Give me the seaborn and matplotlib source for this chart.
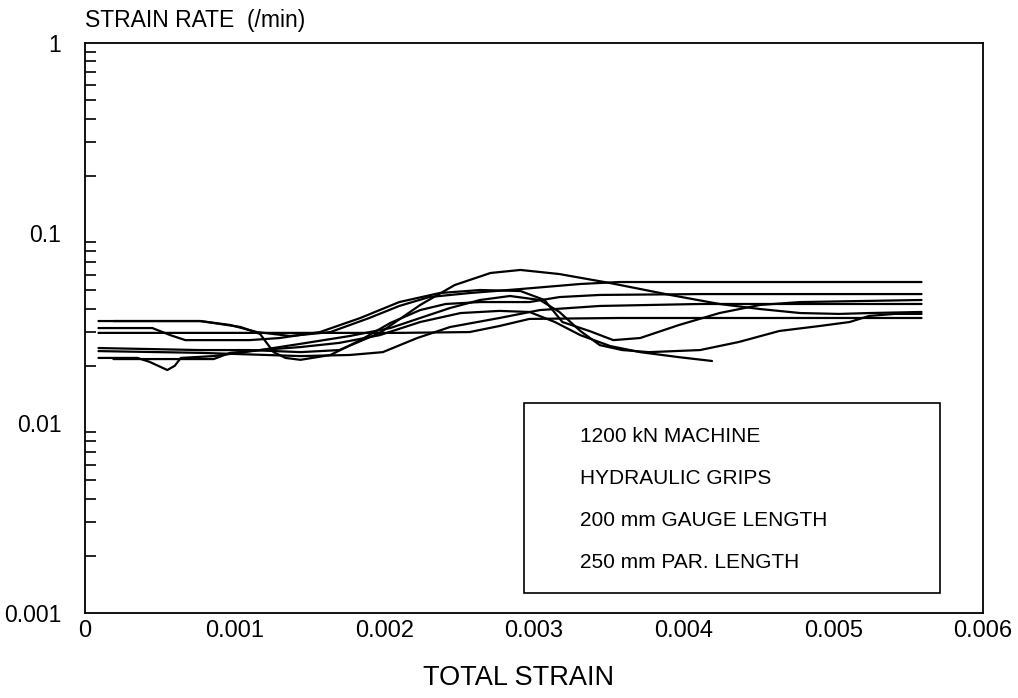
import matplotlib
matplotlib.use("Agg")
import matplotlib.pyplot as plt
from matplotlib.patches import Rectangle
from matplotlib.ticker import FixedLocator, FixedFormatter, LogLocator, NullFormatter
import seaborn as sns
import pandas as pd
import numpy as np

# --- data (total strain, strain rate in /min) ---
strain_1 = [0.00009, 0.00043, 0.00077, 0.0011, 0.00144, 0.0017, 0.00197, 0.00224, 0.00247, 0.00271,
            0.00291, 0.00317, 0.00351, 0.00391, 0.00424, 0.00451, 0.00478, 0.00504, 0.00524, 0.00559]
rate_1 = [0.0248, 0.0245, 0.0242, 0.0242, 0.0236, 0.0242, 0.0298, 0.0418, 0.0532, 0.0616,
          0.0639, 0.0608, 0.0545, 0.0472, 0.0423, 0.0398, 0.0379, 0.0375, 0.0379, 0.0384]

strain_2 = [0.00009, 0.00043, 0.00077, 0.00097, 0.00115, 0.00137, 0.00164, 0.0019, 0.0021, 0.0023,
            0.00257, 0.00291, 0.00331, 0.00357, 0.00411, 0.00559]
rate_2 = [0.0344, 0.0344, 0.0344, 0.0328, 0.0301, 0.0287, 0.0301, 0.0357, 0.0413, 0.0460,
          0.0483, 0.0507, 0.0539, 0.0552, 0.0552, 0.0552]

strain_3 = [0.00019, 0.00077, 0.00104, 0.00117, 0.00126, 0.00134, 0.00144, 0.00164, 0.00184, 0.00204,
            0.00224, 0.00241, 0.00264, 0.00297, 0.00317, 0.00344, 0.00411, 0.00559]
rate_3 = [0.0344, 0.0344, 0.0320, 0.0294, 0.0236, 0.0220, 0.0215, 0.0228, 0.0273, 0.0336,
          0.0393, 0.0423, 0.0433, 0.0433, 0.0460, 0.0472, 0.0477, 0.0477]

strain_4 = [0.00009, 0.00077, 0.00144, 0.0021, 0.00257, 0.00277, 0.00297, 0.00357, 0.00424, 0.00559]
rate_4 = [0.0298, 0.0298, 0.0298, 0.0298, 0.0301, 0.0324, 0.0353, 0.0357, 0.0357, 0.0357]

strain_5 = [0.00009, 0.00045, 0.00057, 0.00067, 0.0011, 0.0013, 0.00157, 0.00184, 0.0021, 0.00237,
            0.00264, 0.00291, 0.00307, 0.00319, 0.00337, 0.00353, 0.00371, 0.00397, 0.00424, 0.00451,
            0.00478, 0.00559]
rate_5 = [0.0316, 0.0316, 0.0290, 0.0273, 0.0273, 0.0280, 0.0301, 0.0357, 0.0433, 0.0483,
          0.0501, 0.0495, 0.0444, 0.0340, 0.0305, 0.0273, 0.0280, 0.0328, 0.0379, 0.0418,
          0.0433, 0.0444]

strain_6 = [0.00009, 0.00077, 0.00144, 0.00177, 0.00199, 0.00222, 0.00244, 0.00277, 0.00304, 0.00344,
            0.00411, 0.00559]
rate_6 = [0.0239, 0.0234, 0.0225, 0.0228, 0.0236, 0.0280, 0.0320, 0.0357, 0.0393, 0.0413,
          0.0423, 0.0423]

strain_7 = [0.00009, 0.00035, 0.00043, 0.00055, 0.0006, 0.00064, 0.00086, 0.00117, 0.00144, 0.00177,
            0.00204, 0.00224, 0.00244, 0.00264, 0.00284, 0.00304, 0.00317, 0.00331, 0.00344, 0.00359,
            0.00377, 0.00411, 0.00437, 0.00464, 0.00491, 0.00511, 0.00524, 0.00541, 0.00559]
rate_7 = [0.0220, 0.0220, 0.0210, 0.0190, 0.0200, 0.0220, 0.0225, 0.0242, 0.0261, 0.0287,
          0.0316, 0.0357, 0.0403, 0.0444, 0.0466, 0.0444, 0.0384, 0.0305, 0.0257, 0.0242,
          0.0236, 0.0242, 0.0267, 0.0305, 0.0324, 0.0340, 0.0366, 0.0375, 0.0375]

strain_8 = [0.00019, 0.00086, 0.00097, 0.00117, 0.00144, 0.0017, 0.00197, 0.00224, 0.00251, 0.00277,
            0.00297, 0.00314, 0.00331, 0.00351, 0.00371, 0.00397, 0.00419]
rate_8 = [0.0217, 0.0217, 0.0234, 0.0242, 0.0251, 0.0264, 0.0290, 0.0340, 0.0379, 0.0389,
          0.0384, 0.0340, 0.0290, 0.0254, 0.0236, 0.0222, 0.0212]

x_ticks = [0, 0.001, 0.002, 0.003, 0.004, 0.005, 0.006]
x_tick_labels = ["0", "0.001", "0.002", "0.003", "0.004", "0.005", "0.006"]
y_ticks = [0.001, 0.01, 0.1, 1]
y_tick_labels = ["0.001", "0.01", "0.1", "1"]
note_lines = ["1200 kN MACHINE", "HYDRAULIC GRIPS", "200 mm GAUGE LENGTH", "250 mm PAR. LENGTH"]

curves = [(strain_1, rate_1), (strain_2, rate_2), (strain_3, rate_3), (strain_4, rate_4),
          (strain_5, rate_5), (strain_6, rate_6), (strain_7, rate_7), (strain_8, rate_8)]
frames = []
for i, (s, r) in enumerate(curves):
    frames.append(pd.DataFrame({"strain": s, "rate": r, "test": f"test {i + 1}"}))
df = pd.concat(frames, ignore_index=True)

sns.set_theme(style="white")
plt.rcParams["font.family"] = ["Liberation Sans", "DejaVu Sans"]
plt.rcParams["text.color"] = "black"
plt.rcParams["axes.labelcolor"] = "black"
plt.rcParams["xtick.color"] = "black"
plt.rcParams["ytick.color"] = "black"

fig = plt.figure(figsize=(10.18, 6.98), dpi=100)
ax = fig.add_axes([0.0835, 0.1218, 0.882, 0.8166])

sns.lineplot(
    data=df, x="strain", y="rate", hue="test",
    palette=["black"] * len(curves), legend=False,
    estimator=None, sort=False, linewidth=1.6, ax=ax,
)

ax.set_yscale("log")
ax.set_xlim(0, 0.006)
ax.set_ylim(0.001, 1)

ax.xaxis.set_major_locator(FixedLocator(x_ticks))
ax.xaxis.set_major_formatter(FixedFormatter(x_tick_labels))
ax.yaxis.set_major_locator(FixedLocator(y_ticks))
ax.yaxis.set_major_formatter(FixedFormatter(y_tick_labels))
ax.yaxis.set_minor_locator(LogLocator(base=10, subs=np.arange(2, 10)))
ax.yaxis.set_minor_formatter(NullFormatter())

ax.tick_params(axis="both", which="both", direction="in", color="black",
               labelcolor="black", top=False, right=False, width=1.2)
ax.tick_params(axis="x", which="major", length=10, pad=5, labelsize=17)
ax.tick_params(axis="y", which="major", length=9, pad=17, labelsize=16.5)
ax.tick_params(axis="y", which="minor", length=8, left=True)

for sp in ax.spines.values():
    sp.set_color("black")
    sp.set_linewidth(1.3)

ax.set_ylabel("")
ax.set_xlabel("TOTAL STRAIN", fontsize=19.5, color="black")
ax.xaxis.set_label_coords(0.483, -0.092)
ax.text(0.0, 1.04, "STRAIN RATE  (/min)", transform=ax.transAxes,
        ha="left", va="center", fontsize=16.5, color="black")

# annotation box
ax.add_patch(Rectangle((0.489, 0.035), 0.463, 0.333, transform=ax.transAxes,
                       fill=False, edgecolor="black", linewidth=1.2))
for k, line in enumerate(note_lines):
    ax.text(0.551, 0.309 - k * 0.0732, line, transform=ax.transAxes,
            ha="left", va="center", fontsize=15, color="black")

ax.grid(False)
fig.savefig("out.png", dpi=100)
